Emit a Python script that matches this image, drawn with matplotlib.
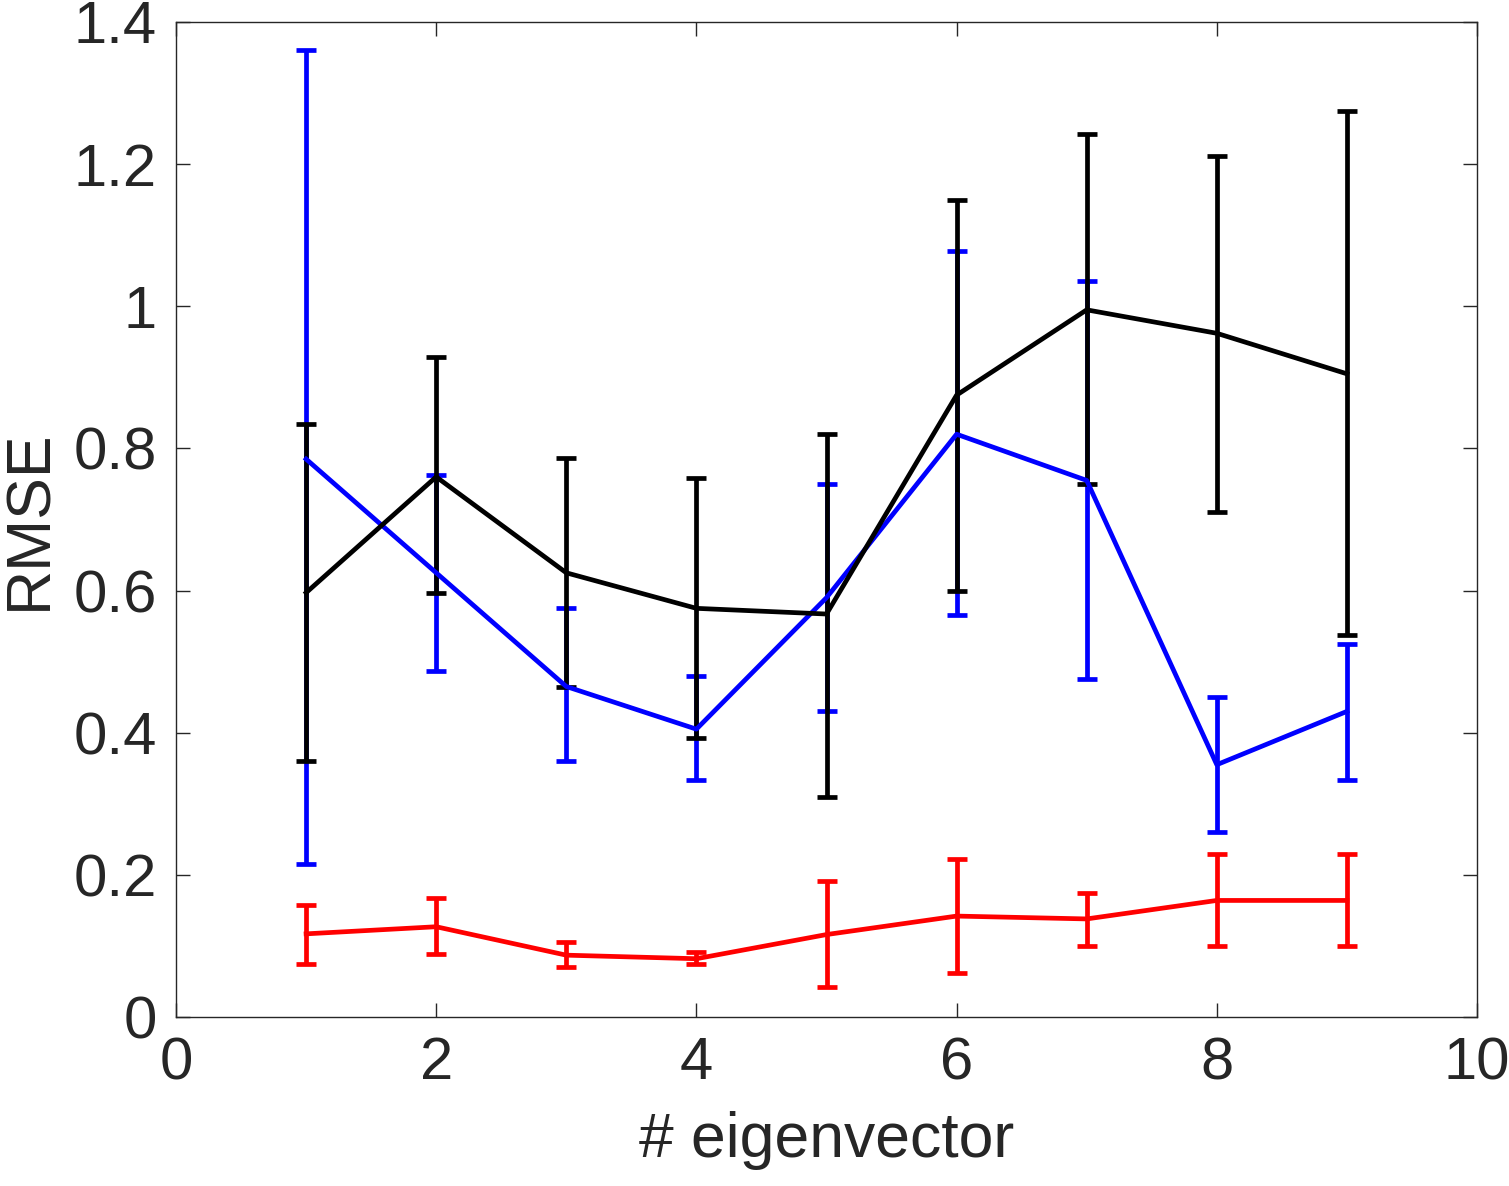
import matplotlib
matplotlib.use("Agg")
import matplotlib.pyplot as plt
import numpy as np

x = [1, 2, 3, 4, 5, 6, 7, 8, 9]
blue_mean = [0.785, 0.625, 0.465, 0.405, 0.59, 0.82, 0.755, 0.355, 0.43]
blue_hi = [1.36, 0.762, 0.575, 0.48, 0.75, 1.078, 1.035, 0.45, 0.525]
blue_lo = [0.215, 0.487, 0.36, 0.333, 0.43, 0.565, 0.475, 0.26, 0.333]
black_mean = [0.597, 0.76, 0.625, 0.575, 0.567, 0.875, 0.995, 0.962, 0.905]
black_hi = [0.835, 0.928, 0.787, 0.758, 0.82, 1.15, 1.242, 1.212, 1.275]
black_lo = [0.36, 0.597, 0.465, 0.393, 0.31, 0.6, 0.75, 0.71, 0.537]
red_mean = [0.117, 0.127, 0.087, 0.082, 0.116, 0.142, 0.138, 0.164, 0.164]
red_hi = [0.157, 0.168, 0.105, 0.092, 0.192, 0.222, 0.175, 0.23, 0.23]
red_lo = [0.075, 0.088, 0.071, 0.074, 0.042, 0.062, 0.1, 0.1, 0.1]

plt.rcParams["font.family"] = "Liberation Sans"
fig = plt.figure(figsize=(15.09, 11.86), dpi=100)
ax = fig.add_axes([176/1509, 1-1017/1186, (1477-176)/1509, (1017-22)/1186])

def eb(m, hi, lo, c):
    m = np.array(m); hi = np.array(hi); lo = np.array(lo)
    ax.errorbar(x, m, yerr=[m-lo, hi-m], color=c, lw=3.4, elinewidth=3.4,
                capsize=7, capthick=3.4)

eb(blue_mean, blue_hi, blue_lo, "#0000ff")
eb(black_mean, black_hi, black_lo, "black")
eb(red_mean, red_hi, red_lo, "#ff0000")

ax.set_xlim(0, 10)
ax.set_ylim(0, 1.4)
ax.set_xticks([0, 2, 4, 6, 8, 10])
ax.set_yticks([0, 0.2, 0.4, 0.6, 0.8, 1, 1.2, 1.4])
ax.set_yticklabels(["0", "0.2", "0.4", "0.6", "0.8", "1", "1.2", "1.4"])
ax.tick_params(direction="in", top=True, right=True, labelsize=43, length=10,
               width=1, colors="#262626", pad=14)
for s in ax.spines.values():
    s.set_linewidth(1)
    s.set_color("#262626")
ax.set_xlabel("# eigenvector", fontsize=45, color="#262626", labelpad=14)
ax.set_ylabel("RMSE", fontsize=45, color="#262626", labelpad=10)
fig.savefig("out.png", dpi=100)
